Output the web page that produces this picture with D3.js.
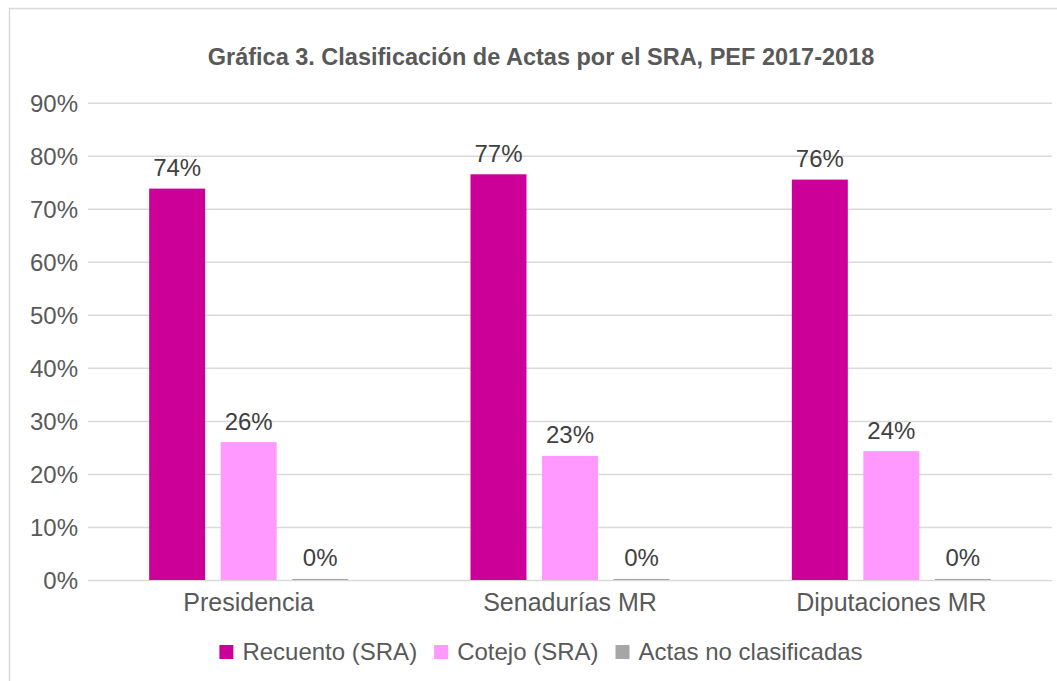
<!DOCTYPE html>
<html>
<head>
<meta charset="utf-8">
<script src="https://cdn.jsdelivr.net/npm/d3@7"></script>
<style>
  body { margin: 0; background: #fff; }
  svg { display: block; font-family: "Liberation Sans", Arial, sans-serif; }
</style>
</head>
<body>
<svg id="chart" width="1057" height="681"></svg>
<script>
// chart data
const categories = ['Presidencia', 'Senadurías MR', 'Diputaciones MR'];
const seriesNames = ['Recuento (SRA)', 'Cotejo (SRA)', 'Actas no clasificadas'];
const recuento = [0.738, 0.765, 0.755];
const cotejo = [0.260, 0.234, 0.243];
const noClasificadas = [0.002, 0.002, 0.002];
const yTicks = [0, 0.1, 0.2, 0.3, 0.4, 0.5, 0.6, 0.7, 0.8, 0.9];
const colors = ['#cc0099', '#ff99ff', '#a6a6a6'];
const title = 'Gráfica 3. Clasificación de Actas por el SRA, PEF 2017-2018';

const svg = d3.select('#chart');
const plot = { left: 88, right: 1052, top: 102.7, bottom: 580 };
const centerX = 541;

// outer frame of the chart area
svg.append('rect')
  .attr('x', 9.5).attr('y', 8.5)
  .attr('width', 1100).attr('height', 700)
  .attr('fill', '#fff')
  .attr('stroke', '#d9d9d9')
  .attr('stroke-width', 1.5);

svg.append('text')
  .attr('x', centerX).attr('y', 65)
  .attr('text-anchor', 'middle')
  .attr('font-size', 23.5).attr('font-weight', 'bold')
  .attr('fill', '#595959')
  .text(title);

const y = d3.scaleLinear().domain([0, 0.9]).range([plot.bottom, plot.top]);
const x0 = d3.scaleBand().domain(categories).range([plot.left, plot.right]);
const x1 = d3.scaleBand().domain(seriesNames).range([0, 199]).paddingInner(0.217);
const groupOffset = (x0.bandwidth() - 199) / 2;

// gridlines + y labels
const yAxis = svg.append('g')
  .attr('transform', `translate(${plot.left},0)`)
  .call(d3.axisLeft(y).tickValues(yTicks).tickFormat(d3.format('.0%'))
    .tickSize(-(plot.right - plot.left)).tickPadding(10));
yAxis.select('.domain').remove();
yAxis.selectAll('line').attr('stroke', '#d9d9d9').attr('stroke-width', 1.5);
yAxis.selectAll('text')
  .attr('font-size', 24).attr('fill', '#595959')
  .attr('font-family', '"Liberation Sans", Arial, sans-serif')
  .attr('dy', '0.36em');

// category labels
const xAxis = svg.append('g')
  .attr('transform', `translate(0,${plot.bottom})`)
  .call(d3.axisBottom(x0).tickSize(0).tickPadding(0));
xAxis.select('.domain').remove();
xAxis.selectAll('text')
  .attr('font-size', 25).attr('fill', '#595959')
  .attr('font-family', '"Liberation Sans", Arial, sans-serif')
  .attr('dy', null).attr('y', 31);

const seriesValues = [recuento, cotejo, noClasificadas];
const rows = [];
seriesValues.forEach((vals, s) => {
  vals.forEach((v, i) => rows.push({ cat: categories[i], series: seriesNames[s], s, v }));
});

const barX = (d) => x0(d.cat) + groupOffset + x1(d.series);

svg.append('g').selectAll('rect')
  .data(rows)
  .join('rect')
  .attr('x', barX)
  .attr('y', (d) => y(d.v))
  .attr('width', x1.bandwidth())
  .attr('height', (d) => plot.bottom - y(d.v))
  .attr('fill', (d) => colors[d.s]);

svg.append('g').selectAll('text')
  .data(rows)
  .join('text')
  .attr('x', (d) => barX(d) + x1.bandwidth() / 2)
  .attr('y', (d) => y(d.v) - 12.5)
  .attr('text-anchor', 'middle')
  .attr('font-size', 24)
  .attr('fill', '#404040')
  .text((d) => d3.format('.0%')(d.v));

// legend, centred under the chart
const legend = svg.append('g');
const items = legend.selectAll('g')
  .data(seriesNames)
  .join('g');
items.append('rect')
  .attr('y', 645).attr('width', 14).attr('height', 14)
  .attr('fill', (d, i) => colors[i]);
items.append('text')
  .attr('x', 23).attr('y', 660)
  .attr('font-size', 24).attr('fill', '#595959')
  .text((d) => d);

let offset = 0;
items.each(function () {
  const w = d3.select(this).select('text').node().getComputedTextLength();
  d3.select(this).attr('data-x', offset);
  offset += 23 + w + 17;
});
const total = offset - 17;
items.attr('transform', function () {
  return `translate(${centerX - total / 2 + (+d3.select(this).attr('data-x'))},0)`;
});
</script>
</body>
</html>
